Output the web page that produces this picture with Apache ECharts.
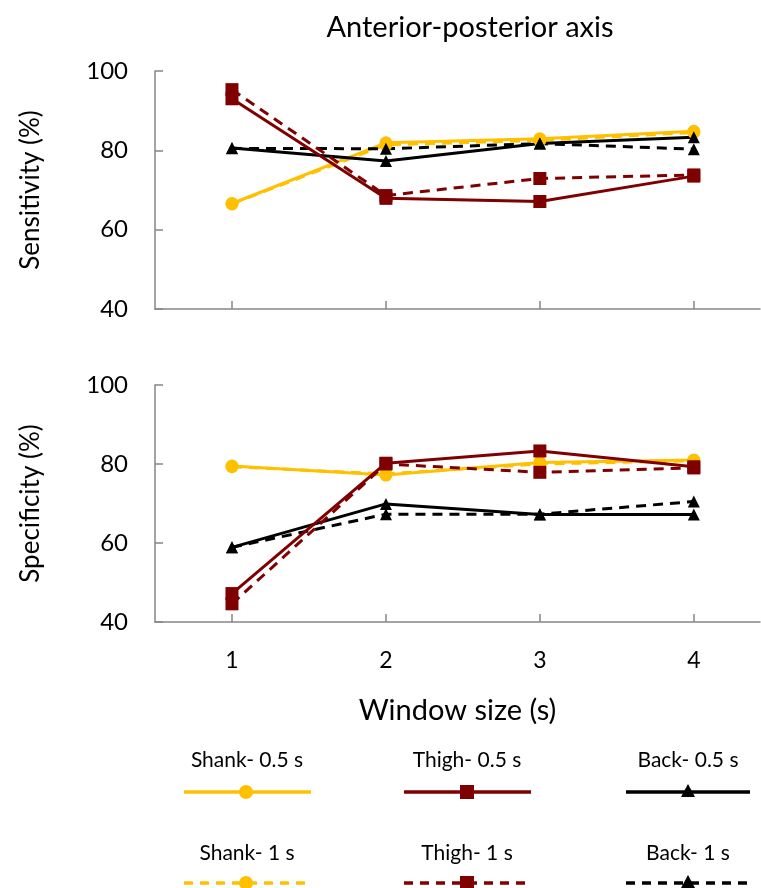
<!DOCTYPE html>
<html>
<head>
<meta charset="utf-8">
<script src="https://cdn.jsdelivr.net/npm/echarts@6/dist/echarts.min.js"></script>
<style>html,body{margin:0;padding:0;background:#fff}#c{width:761px;height:888px}</style>
</head>
<body>
<div id="c"></div>
<script>
const windows = [1, 2, 3, 4];
const yTicks = [40, 60, 80, 100];
const seriesNames = ['Shank- 0.5 s', 'Thigh- 0.5 s', 'Back- 0.5 s', 'Shank- 1 s', 'Thigh- 1 s', 'Back- 1 s'];

const sensShank05 = [66.6, 81.9, 82.9, 84.8];
const sensShank1  = [66.5, 81.4, 82.5, 84.5];
const sensThigh05 = [93.0, 67.9, 67.1, 73.5];
const sensThigh1  = [95.3, 68.6, 72.9, 73.8];
const sensBack05  = [80.6, 77.3, 81.7, 83.3];
const sensBack1   = [80.5, 80.4, 81.7, 80.3];

const specShank05 = [79.5, 77.2, 80.4, 81.0];
const specShank1  = [79.3, 77.5, 80.0, 80.8];
const specThigh05 = [47.2, 80.2, 83.3, 79.3];
const specThigh1  = [44.6, 80.0, 77.9, 79.0];
const specBack05  = [58.9, 69.9, 67.2, 67.2];
const specBack1   = [58.9, 67.3, 67.3, 70.5];

const FONT = 'Lato';
const YEL = '#FFC000', RED = '#7F0000', BLK = '#000000';
const AXC = '#868686';
const DASH = [10, 7];

const styles = {
  'Shank- 0.5 s': {c: YEL, sym: 'circle', size: 13, dash: 'solid'},
  'Shank- 1 s':   {c: YEL, sym: 'circle', size: 13, dash: DASH},
  'Thigh- 0.5 s': {c: RED, sym: 'rect', size: 13, dash: 'solid'},
  'Thigh- 1 s':   {c: RED, sym: 'rect', size: 13, dash: DASH},
  'Back- 0.5 s':  {c: BLK, sym: 'triangle', size: 12, dash: 'solid'},
  'Back- 1 s':    {c: BLK, sym: 'triangle', size: 12, dash: DASH}
};

function mk(name, vals, gi) {
  const s = styles[name];
  return {
    name: name, type: 'line', xAxisIndex: gi, yAxisIndex: gi,
    data: windows.map((w, i) => [w, vals[i]]),
    symbol: s.sym, symbolSize: s.size, showSymbol: true,
    lineStyle: {color: s.c, width: 3, type: s.dash},
    itemStyle: {color: s.c},
    z: 2, animation: false
  };
}

function xAx(gi, showLabels) {
  return {
    type: 'value', gridIndex: gi, min: 0.5, max: 4.43,
    axisLine: {show: true, lineStyle: {color: AXC, width: 1.5}},
    axisTick: {show: true, inside: true, length: 8, customValues: windows, lineStyle: {color: AXC, width: 1.5}},
    axisLabel: {show: showLabels, customValues: windows, margin: 27, fontFamily: FONT, fontSize: 23, color: '#000'},
    splitLine: {show: false},
    name: showLabels ? 'Window size (s)' : '', nameLocation: 'middle', nameGap: 74,
    nameTextStyle: {fontFamily: FONT, fontSize: 29, color: '#000'}
  };
}
function yAx(gi, name) {
  return {
    type: 'value', gridIndex: gi, min: 40, max: 100, interval: 20,
    axisLine: {show: true, lineStyle: {color: AXC, width: 1.5}},
    axisTick: {show: true, inside: true, length: 8, lineStyle: {color: AXC, width: 1.5}},
    axisLabel: {margin: 27, fontFamily: FONT, fontSize: 24, color: '#000', customValues: yTicks},
    splitLine: {show: false},
    name: name, nameLocation: 'middle', nameGap: 111,
    nameTextStyle: {fontFamily: FONT, fontSize: 26, color: '#000'}
  };
}

const legendCols = [
  {cx: 247, x0: 184, x1: 311},
  {cx: 467, x0: 404, x1: 531},
  {cx: 688, x0: 626, x1: 750}
];
const legendRows = [{ty: 760, ly: 792}, {ty: 853, ly: 883}];
const graphic = [];
seriesNames.forEach((n, idx) => {
  const s = styles[n];
  const col = legendCols[idx % 3], row = legendRows[Math.floor(idx / 3)];
  graphic.push({type: 'text', silent: true, x: col.cx, y: row.ty,
    style: {text: n, fontFamily: FONT, fontSize: 21, fill: '#000', align: 'center', verticalAlign: 'middle'}});
  graphic.push({type: 'line', shape: {x1: col.x0, y1: row.ly, x2: col.x1, y2: row.ly},
    style: {stroke: s.c, lineWidth: 3.5, lineDash: s.dash === 'solid' ? null : [9, 7]}});
  if (s.sym === 'circle') graphic.push({type: 'circle', shape: {cx: col.cx - 1, cy: row.ly, r: 7}, style: {fill: s.c}});
  else if (s.sym === 'rect') graphic.push({type: 'rect', shape: {x: col.cx - 7, y: row.ly - 7, width: 14, height: 14}, style: {fill: s.c}});
  else graphic.push({type: 'polygon', shape: {points: [[col.cx, row.ly - 8], [col.cx - 7, row.ly + 5], [col.cx + 7, row.ly + 5]]}, style: {fill: s.c}});
});

const option = {
  backgroundColor: '#fff',
  animation: false,
  title: {text: 'Anterior-posterior axis', left: 465, top: 8, textAlign: 'center',
    textStyle: {fontFamily: FONT, fontSize: 29, fontWeight: 'normal', color: '#000'}},
  grid: [
    {left: 155, top: 71, width: 605, height: 238},
    {left: 155, top: 385, width: 605, height: 237}
  ],
  xAxis: [xAx(0, false), xAx(1, true)],
  yAxis: [yAx(0, 'Sensitivity (%)'), yAx(1, 'Specificity (%)')],
  series: [
    mk('Shank- 1 s', sensShank1, 0), mk('Shank- 0.5 s', sensShank05, 0),
    mk('Back- 1 s', sensBack1, 0), mk('Back- 0.5 s', sensBack05, 0),
    mk('Thigh- 1 s', sensThigh1, 0), mk('Thigh- 0.5 s', sensThigh05, 0),
    mk('Shank- 1 s', specShank1, 1), mk('Shank- 0.5 s', specShank05, 1),
    mk('Back- 1 s', specBack1, 1), mk('Back- 0.5 s', specBack05, 1),
    mk('Thigh- 1 s', specThigh1, 1), mk('Thigh- 0.5 s', specThigh05, 1)
  ],
  graphic: graphic
};
const chart = echarts.init(document.getElementById('c'), null, {renderer: 'canvas'});
chart.setOption(option);
</script>
</body>
</html>
